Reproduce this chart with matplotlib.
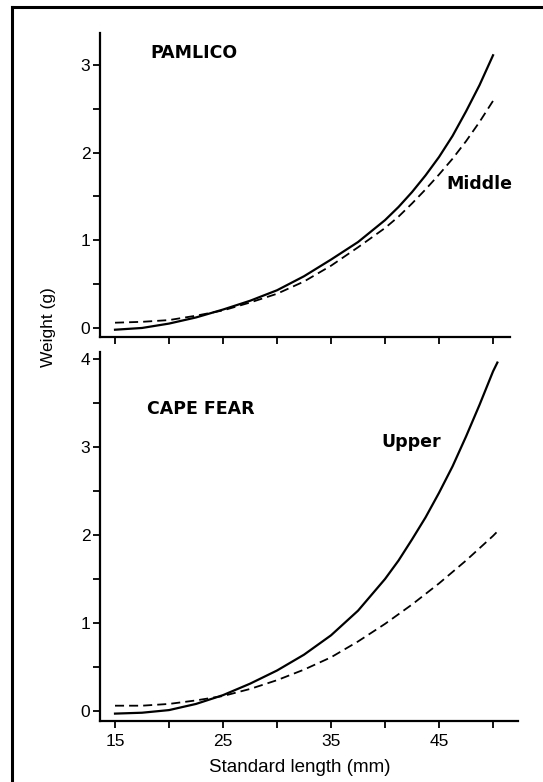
import matplotlib
matplotlib.use("Agg")
import matplotlib.pyplot as plt
from matplotlib.lines import Line2D
import numpy as np

# standard length (mm) and weight (g)
length_pam = [15, 17.5, 20, 22.5, 25, 27.5, 30, 32.5, 35, 37.5, 40, 41.25, 42.5, 43.75,
              45, 46.25, 47.5, 48.75, 50]
pam_solid = [-0.02, 0.00, 0.05, 0.12, 0.21, 0.31, 0.43, 0.59, 0.78, 0.98, 1.23, 1.38, 1.55,
             1.74, 1.95, 2.19, 2.47, 2.77, 3.11]
pam_dashed = [0.06, 0.07, 0.09, 0.14, 0.20, 0.29, 0.39, 0.53, 0.71, 0.92, 1.14, 1.27, 1.42,
              1.58, 1.75, 1.93, 2.13, 2.35, 2.59]

length_cf = [15, 17.5, 20, 22.5, 25, 27.5, 30, 32.5, 35, 37.5, 40, 41.25, 42.5, 43.75,
             45, 46.25, 47.5, 48.75, 50, 50.4]
cf_solid = [-0.03, -0.02, 0.01, 0.08, 0.18, 0.31, 0.46, 0.64, 0.86, 1.14, 1.50, 1.71, 1.95,
            2.20, 2.48, 2.78, 3.12, 3.48, 3.86, 3.96]
cf_dashed = [0.06, 0.06, 0.08, 0.12, 0.17, 0.25, 0.35, 0.47, 0.61, 0.79, 0.99, 1.10, 1.21,
             1.33, 1.45, 1.58, 1.71, 1.85, 1.99, 2.04]

x_ticks = [15, 20, 25, 30, 35, 40, 45, 50]
x_labels = ["15", "", "25", "", "35", "", "45", ""]

W, H = 543, 782
fig = plt.figure(figsize=(W / 100, H / 100), dpi=100)

LABEL_FONT = dict(family="DejaVu Sans", weight="bold", fontsize=12.5)
TICK_FONT = "Liberation Sans"


def style_axes(ax, ymax, show_xlabels):
    for side in ("top", "right"):
        ax.spines[side].set_visible(False)
    for side in ("left", "bottom"):
        ax.spines[side].set_linewidth(1.6)
    ax.set_xticks(x_ticks)
    ax.set_xticklabels(x_labels if show_xlabels else [""] * len(x_ticks))
    ax.set_yticks(np.arange(0, ymax + 1))
    ax.set_yticks(np.arange(0.5, ymax + 0.5, 1.0), minor=True)
    ax.tick_params(axis="both", which="both", direction="out", length=5, width=1.3,
                   labelsize=12.5, pad=2)
    ax.tick_params(axis="x", pad=4)
    for lab in ax.get_xticklabels() + ax.get_yticklabels():
        lab.set_family(TICK_FONT)


def px_axes(left, right, top, bottom):
    return fig.add_axes([left / W, 1 - bottom / H, (right - left) / W, (bottom - top) / H])


# top panel: Pamlico
ax1 = px_axes(100, 510, 33, 337)
ax1.plot(length_pam, pam_solid, color="black", lw=1.6)
ax1.plot(length_pam, pam_dashed, color="black", lw=1.3, linestyle=(0, (5, 2.8)))
ax1.set_xlim(13.61, 51.57)
ax1.set_ylim(-0.103, 3.364)
style_axes(ax1, 3, False)
ax1.text(18.24, 3.075, "PAMLICO", **LABEL_FONT)
ax1.text(45.71, 1.585, "Middle", **LABEL_FONT)

# bottom panel: Cape Fear
ax2 = px_axes(100, 518, 352, 721)
ax2.plot(length_cf, cf_solid, color="black", lw=1.6)
ax2.plot(length_cf, cf_dashed, color="black", lw=1.3, linestyle=(0, (5, 2.8)))
ax2.set_xlim(13.61, 52.31)
ax2.set_ylim(-0.114, 4.08)
style_axes(ax2, 4, True)
ax2.text(17.96, 3.38, "CAPE FEAR", **LABEL_FONT)
ax2.text(39.69, 3.00, "Upper", **LABEL_FONT)

fig.text(48 / W, 1 - 327 / H, "Weight (g)", rotation=90, ha="center", va="center",
         family="Liberation Sans", fontsize=12.5)
fig.text(300 / W, 1 - 768 / H, "Standard length (mm)", ha="center", va="center",
         family="Liberation Sans", fontsize=13.5)

# outer frame (only left and top edges visible in the scan)
fig.add_artist(Line2D([12 / W, 12 / W], [0, 1 - 7 / H], color="black", lw=2.2,
                      transform=fig.transFigure))
fig.add_artist(Line2D([12 / W, 1], [1 - 7 / H, 1 - 7 / H], color="black", lw=2.2,
                      transform=fig.transFigure))

fig.savefig("out.png", dpi=100)
